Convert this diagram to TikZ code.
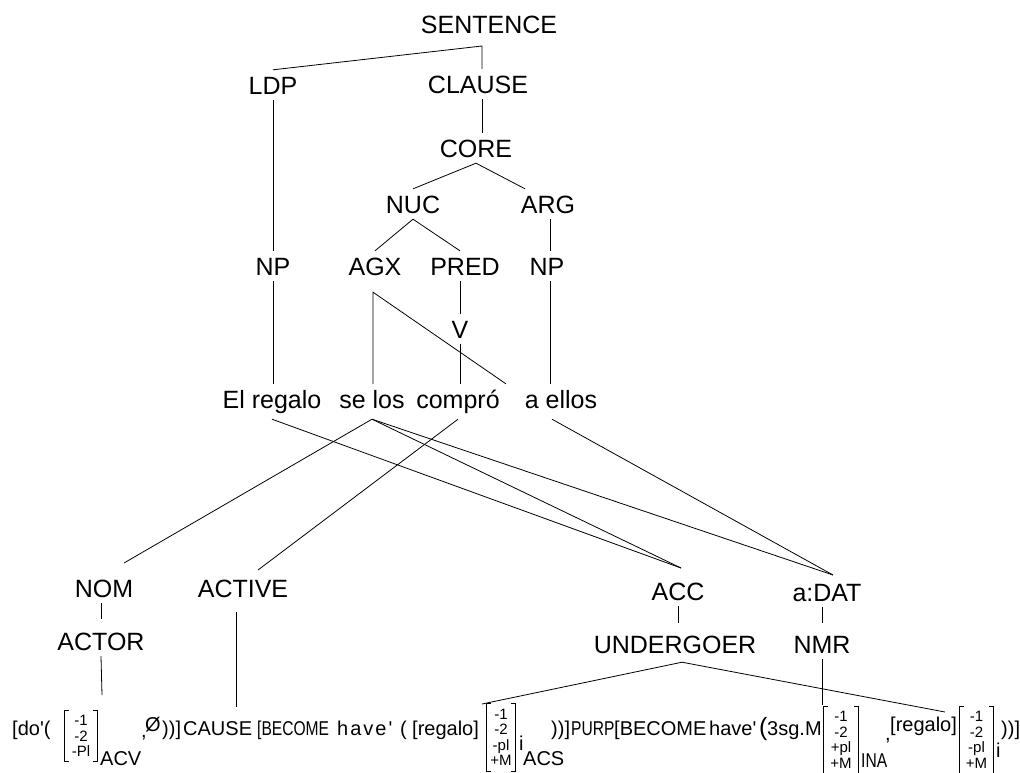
\documentclass[tikz,border=0pt]{standalone}
\usepackage{fontspec}
\setmainfont{Liberation Sans}[Ligatures=TeXOff]
\usetikzlibrary{calc}
\newcommand\matbrk[1]{%
  \draw[brk] ([xshift=4pt]#1.north west) -- (#1.north west) -- (#1.south west) -- ([xshift=4pt]#1.south west);
  \draw[brk] ([xshift=-4pt]#1.north east) -- (#1.north east) -- (#1.south east) -- ([xshift=-4pt]#1.south east);}
\begin{document}
\begin{tikzpicture}[x=1pt,y=-1pt,
  lab/.style={font=\fontsize{25}{30}\selectfont, text height=18pt, text depth=0pt, inner sep=6pt, anchor=base},
  word/.style={lab, text depth=5pt},
  fx/.style={font=\fontsize{20}{24}\selectfont, inner sep=0pt, anchor=base west},
  fxn/.style={fx, font=\fontsize{20}{24}\selectfont\addfontfeature{FakeStretch=0.78}},
  fxh/.style={fx, font=\fontsize{20}{24}\selectfont\addfontfeature{LetterSpace=10}},
  mat/.style={font=\fontsize{15}{15.5}\selectfont, align=center, inner xsep=0pt, inner ysep=5pt},
  brk/.style={line width=0.9pt},
  ln/.style={line width=0.8pt},
]
\fill[white] (0,0) rectangle (1020,772);
\useasboundingbox (0,0) rectangle (1020,772);

% upper tree
\node[lab] (sent) at (489,33) {SENTENCE};
\node[lab] (ldp) at (273,94) {LDP};
\node[lab] (clause) at (478,93) {CLAUSE};
\node[lab] (core) at (476,157) {CORE};
\node[lab] (nuc) at (413,213) {NUC};
\node[lab] (arg) at (548,213) {ARG};
\node[lab] (npl) at (273,275) {NP};
\node[lab] (agx) at (375,275) {AGX};
\node[lab] (pred) at (465,275) {PRED};
\node[lab] (npr) at (547,275) {NP};
\node[lab] (vv) at (460,338) {V};
\node[word] (elr) at (272,408) {El regalo};
\node[word] (selos) at (372,408) {se los};
\node[word] (compro) at (458,408) {compró};
\node[word] (aellos) at (561,408) {a ellos};

% lower labels
\node[lab] (nom) at (104,597) {NOM};
\node[lab] (active) at (243,597) {ACTIVE};
\node[lab] (acc) at (678,600) {ACC};
\node[lab] (dat) at (827,601) {a:DAT};
\node[lab] (actor) at (101,650) {ACTOR};
\node[lab] (und) at (675,653) {UNDERGOER};
\node[lab] (nmr) at (822,653) {NMR};

% formula
\node[fx] (f1) at (12,735) {[do'(};
\node[mat, minimum width=32pt] (m1) at (81,736) {-1\\-2\\-Pl};
\node[fx] (acv) at (100,765) {ACV};
\node[fx] (fc1) at (141,737) {,};
\node[fx] (fz) at (145,731) {Ø};
\node[fx] (fcl1) at (162,735) {))]};
\node[fx] (fcause) at (183,735) {CAUSE};
\node[fxn] (fbec1) at (257,735) {[BECOME};
\node[fxh] (fhave1) at (337,735) {have'};
\node[fx] (fp1) at (400,735) {(};
\node[fx] (freg1) at (412,735) {[regalo]};
\node[mat, minimum width=28pt] (m2) at (501,737.5) {-1\\-2\\-pl\\+M};
\node[fx] (fi1) at (519,750) {i};
\node[fx] (acs) at (523,765) {ACS};
\node[fx] (fcl2) at (551,735) {))]};
\node[fxn] (fpurp) at (571,735) {PURP};
\node[fx] (fbec2) at (614,735) {[BECOME};
\node[fx] (fhave2) at (709,735) {have'};
\node[fx, font=\fontsize{25}{28}\selectfont] (fp2) at (759,735) {(};
\node[fx] (f3sg) at (767,735) {3sg.M};
\node[mat, minimum width=34pt] (m3) at (841,740) {-1\\-2\\+pl\\+M};
\node[fxn] (ina) at (861,767) {INA};
\node[fx] (fc2) at (885,740) {,};
\node[fx] (freg2) at (890,731) {[regalo]};
\node[mat, minimum width=33pt] (m4) at (976.5,740) {-1\\-2\\-pl\\+M};
\node[fx] (fi2) at (996,757) {i};
\node[fx] (fcl3) at (1001,735) {))]};
\matbrk{m1}\matbrk{m2}\matbrk{m3}\matbrk{m4}

% upper connectors
\coordinate (sj) at (482,46);
\draw[ln] (ldp.north) -- (sj) -- (sj |- clause.north);
\draw[ln] (sj |- clause.south) -- (sj |- core.north);
\draw[ln] (ldp.south) -- (npl.north);
\draw[ln] (core.south) -- (nuc.north);
\draw[ln] (core.south) -- ([xshift=-23pt]arg.north);
\draw[ln] (nuc.south) -- (agx.north);
\draw[ln] (nuc.south) -- ([xshift=-5pt]pred.north);
\draw[ln] ([xshift=2pt]arg.south) -- ([xshift=3pt]npr.north);
\draw[ln] (npl.south) -- (npl.south |- elr.north);
\coordinate (agxj) at ([xshift=-2pt,yshift=-11pt]agx.south);
\draw[ln] (agxj |- selos.north) -- (agxj) -- (compro.north east);
\draw[ln] (vv.north |- pred.south) -- (vv.north);
\draw[ln] (vv.south) -- (vv.south |- compro.north);
\draw[ln] ([xshift=3pt]npr.south) -- ([xshift=3pt]npr.south |- aellos.north);

% linking connectors
\coordinate (accin) at (681,568);
\coordinate (datin) at (833,575);
\coordinate (nomin) at (124,563);
\coordinate (actin) at (258,570);
\draw[ln] (elr.south) -- (accin);
\draw[ln] (selos.south) -- (nomin);
\draw[ln] (selos.south) -- (accin);
\draw[ln] (selos.south) -- (datin);
\draw[ln] (compro.south) -- (actin);
\draw[ln] ([xshift=-9pt]aellos.south) -- (datin);

% lower connectors
\coordinate (actorend) at (102,695);
\coordinate (activeend) at (236,707);
\coordinate (uend1) at (482,704);
\coordinate (uend2) at (945,712);
\coordinate (nmrend) at (822,705);
\draw[ln, shorten >=7pt] (actor.north |- nom.south) -- (actor.north);
\draw[ln, shorten >=6pt] (acc.south) -- (acc.south |- und.north);
\draw[ln, shorten >=6pt] (nmr.north |- dat.south) -- (nmr.north);
\draw[ln] (actor.south) -- (actorend);
\draw[ln, shorten <=9pt] (activeend |- active.south) -- (activeend);
\coordinate (uapex) at ([xshift=7pt,yshift=-3pt]und.south);
\draw[ln] (uend1) -- (uapex) -- (uend2);
\draw[ln] (nmr.south) -- (nmrend);
\end{tikzpicture}
\end{document}
